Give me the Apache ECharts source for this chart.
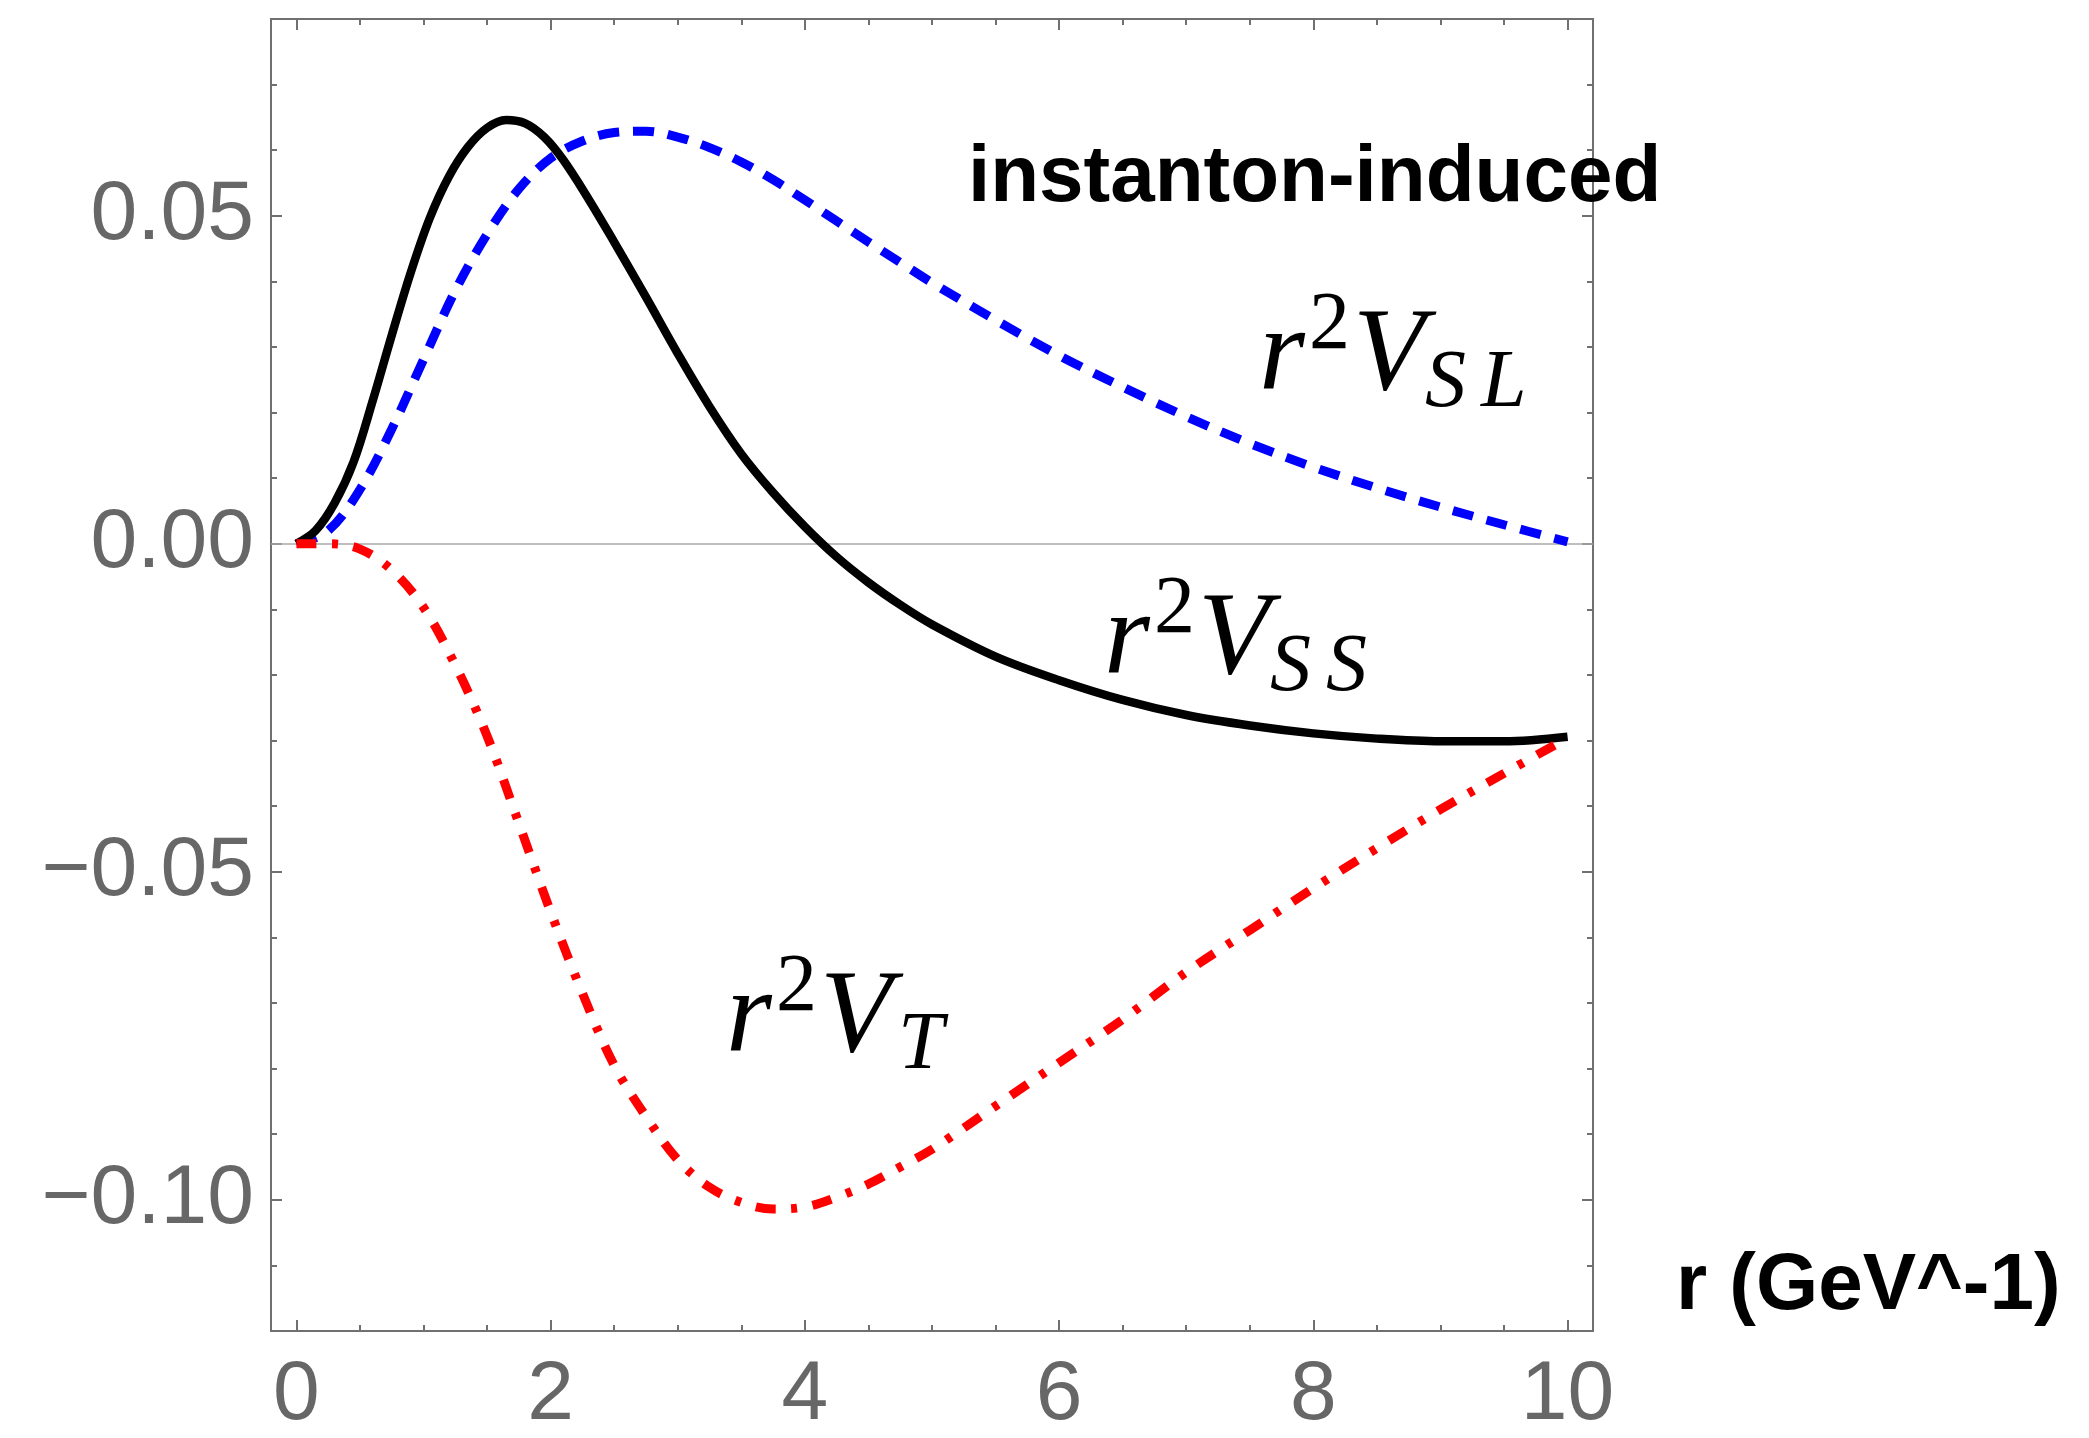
<!DOCTYPE html>
<html>
<head>
<meta charset="utf-8">
<script src="https://cdn.jsdelivr.net/npm/echarts@6/dist/echarts.min.js"></script>
<style>
  html, body { margin: 0; padding: 0; background: #ffffff; }
  #chart { width: 2089px; height: 1438px; }
</style>
</head>
<body>
<div id="chart"></div>
<script>
// r in GeV^-1 and r^2 V(r) for the instanton-induced spin-spin, spin-orbit and tensor parts
const ssR = [0, 0.15, 0.3, 0.45, 0.6, 0.75, 0.9, 1.05, 1.2, 1.35, 1.5, 1.65, 1.8, 1.95, 2.1, 2.3, 2.5, 2.75, 3.0, 3.25, 3.5, 3.75, 4.0, 4.25, 4.5, 4.75, 5.0, 5.5, 6.0, 6.5, 7.0, 7.5, 8.0, 8.5, 9.0, 9.5, 10.0];
const ssV = [0, 0.0020, 0.0062, 0.0125, 0.0218, 0.0318, 0.0414, 0.0497, 0.0560, 0.0605, 0.0634, 0.0646, 0.0641, 0.0620, 0.0585, 0.0525, 0.0460, 0.0376, 0.0290, 0.0209, 0.0137, 0.0078, 0.0026, -0.0020, -0.0059, -0.0093, -0.0123, -0.0172, -0.0208, -0.0238, -0.0261, -0.0277, -0.0289, -0.0297, -0.0301, -0.0301, -0.0294];

const slR = [0, 0.25, 0.5, 0.75, 1.0, 1.25, 1.5, 1.75, 2.0, 2.25, 2.5, 2.75, 3.0, 3.25, 3.5, 3.75, 4.0, 4.25, 4.5, 4.75, 5.0, 5.5, 6.0, 6.5, 7.0, 7.5, 8.0, 8.5, 9.0, 9.5, 10.0];
const slV = [0, 0.0020, 0.0083, 0.0175, 0.0281, 0.0386, 0.0472, 0.0541, 0.0588, 0.0614, 0.0627, 0.0629, 0.0620, 0.0604, 0.0582, 0.0555, 0.0524, 0.0492, 0.0460, 0.0429, 0.0398, 0.0341, 0.0287, 0.0239, 0.0194, 0.0153, 0.0117, 0.0085, 0.0056, 0.0029, 0.0003];

const tR = [0, 0.25, 0.5, 0.75, 1.0, 1.25, 1.5, 1.75, 2.0, 2.25, 2.5, 2.75, 3.0, 3.25, 3.5, 3.75, 4.0, 4.25, 4.5, 4.75, 5.0, 5.5, 6.0, 6.5, 7.0, 7.5, 8.0, 8.5, 9.0, 9.5, 10.0];
const tV = [0, 0.0000, -0.0008, -0.0040, -0.0097, -0.0185, -0.0293, -0.0426, -0.0561, -0.0685, -0.0795, -0.0873, -0.0939, -0.0981, -0.1004, -0.1014, -0.1011, -0.0996, -0.0976, -0.0950, -0.0923, -0.0857, -0.0791, -0.0725, -0.0653, -0.0589, -0.0525, -0.0464, -0.0405, -0.0350, -0.0296];

// Tick positions (major ticks carry labels)
const xMajorTicks = [0, 2, 4, 6, 8, 10];
const xMinorTicks = [0.5, 1, 1.5, 2.5, 3, 3.5, 4.5, 5, 5.5, 6.5, 7, 7.5, 8.5, 9, 9.5];
const yMajorTicks = [-0.1, -0.05, 0, 0.05];
const yMinorTicks = [-0.11, -0.09, -0.08, -0.07, -0.06, -0.04, -0.03, -0.02, -0.01, 0.01, 0.02, 0.03, 0.04, 0.06, 0.07];

const zip = (xs, ys) => xs.map((x, i) => [x, ys[i]]);

const FRAME = '#707070';
const LABEL_GRAY = '#676767';
const SANS = '"Liberation Sans", Arial, Helvetica, sans-serif';
const SERIF = '"Liberation Serif", "Times New Roman", serif';
const MAJOR_LEN = 11, MINOR_LEN = 6;

function xAxisDef(position, ticks, len, withLabels) {
  return {
    type: 'value', gridIndex: 0, min: -0.2, max: 10.2, position: position,
    axisLine: { show: false, onZero: false },
    splitLine: { show: false },
    axisTick: { show: true, inside: true, length: len, customValues: ticks,
                lineStyle: { color: FRAME, width: 2 } },
    axisLabel: withLabels ? {
      show: true, customValues: ticks, margin: 23, color: LABEL_GRAY,
      fontSize: 84, fontFamily: SANS, formatter: v => String(v)
    } : { show: false }
  };
}

function yAxisDef(position, ticks, len, withLabels) {
  return {
    type: 'value', gridIndex: 0, min: -0.12, max: 0.08, position: position,
    axisLine: { show: false, onZero: false },
    splitLine: { show: false },
    axisTick: { show: true, inside: true, length: len, customValues: ticks,
                lineStyle: { color: FRAME, width: 2 } },
    axisLabel: withLabels ? {
      show: true, customValues: ticks, margin: 17, color: LABEL_GRAY,
      fontSize: 84, fontFamily: SANS,
      formatter: v => (v < -1e-9 ? '\u2212' : '') + Math.abs(v).toFixed(2)
    } : { show: false }
  };
}

// Math-style label r^2 V_sub, laid out piece by piece from its baseline
function mathLabel(x0, base, subLetters, subOffsets) {
  const big = 118, small = 82;
  const midBig = base - 0.3375 * big;
  const txt = (x, y, s, font) => ({
    type: 'text', x: x, y: y, z: 10,
    style: { text: s, font: font, fill: '#000',
             textAlign: 'left', textVerticalAlign: 'middle', align: 'left', verticalAlign: 'middle' }
  });
  const els = [
    txt(x0, midBig, 'r', 'italic ' + big + 'px ' + SERIF),
    txt(x0 + 50, base - 44 - 0.3375 * small, '2', small + 'px ' + SERIF),
    txt(x0 + 94, midBig, 'V', 'italic ' + big + 'px ' + SERIF)
  ];
  subLetters.forEach((ch, i) => {
    els.push(txt(x0 + subOffsets[i], base + 14 - 0.3375 * small, ch, 'italic ' + small + 'px ' + SERIF));
  });
  return els;
}

const chart = echarts.init(document.getElementById('chart'), null, { renderer: 'canvas' });

const option = {
  animation: false,
  backgroundColor: '#ffffff',
  grid: { left: 271, top: 19, width: 1322, height: 1322, show: true,
          borderColor: FRAME, borderWidth: 2, backgroundColor: 'transparent' },
  xAxis: [
    xAxisDef('bottom', xMajorTicks, MAJOR_LEN, true),
    xAxisDef('bottom', xMinorTicks, MINOR_LEN, false),
    xAxisDef('top', xMajorTicks, MAJOR_LEN, false),
    xAxisDef('top', xMinorTicks, MINOR_LEN, false)
  ],
  yAxis: [
    yAxisDef('left', yMajorTicks, MAJOR_LEN, true),
    yAxisDef('left', yMinorTicks, MINOR_LEN, false),
    yAxisDef('right', yMajorTicks, MAJOR_LEN, false),
    yAxisDef('right', yMinorTicks, MINOR_LEN, false)
  ],
  series: [
    {
      name: 'r2 V_SL', type: 'line', xAxisIndex: 0, yAxisIndex: 0,
      data: zip(slR, slV), symbol: 'none', showSymbol: false, smooth: 0.35, z: 3,
      lineStyle: { color: '#0000ff', width: 9, type: [21, 14], cap: 'butt' },
      markLine: {
        silent: true, symbol: ['none', 'none'], z: 1,
        label: { show: false },
        lineStyle: { color: '#a9a9a9', width: 1.6, type: 'solid' },
        data: [{ yAxis: 0 }]
      }
    },
    {
      name: 'r2 V_SS', type: 'line', xAxisIndex: 0, yAxisIndex: 0,
      data: zip(ssR, ssV), symbol: 'none', showSymbol: false, smooth: 0.35, z: 4,
      lineStyle: { color: '#000000', width: 8.5, type: 'solid' }
    },
    {
      name: 'r2 V_T', type: 'line', xAxisIndex: 0, yAxisIndex: 0,
      data: zip(tR, tV), symbol: 'none', showSymbol: false, smooth: 0.35, z: 5,
      lineStyle: { color: '#ff0000', width: 9, type: [20, 15.5, 6, 15.5], cap: 'butt' }
    }
  ],
  graphic: [
    { type: 'text', x: 968, y: 179, z: 10,
      style: { text: 'instanton-induced', font: 'bold 80px ' + SANS, fill: '#000',
               textAlign: 'left', textVerticalAlign: 'middle', align: 'left', verticalAlign: 'middle' } },
    { type: 'text', x: 1676, y: 1287, z: 10,
      style: { text: 'r (GeV^-1)', font: 'bold 80px ' + SANS, fill: '#000',
               textAlign: 'left', textVerticalAlign: 'middle', align: 'left', verticalAlign: 'middle' } }
  ]
    .concat(mathLabel(1259, 398, ['S', 'L'], [166, 222]))
    .concat(mathLabel(1104, 682, ['S', 'S'], [166, 222]))
    .concat(mathLabel(726, 1060, ['T'], [172]))
};

chart.setOption(option);
</script>
</body>
</html>
